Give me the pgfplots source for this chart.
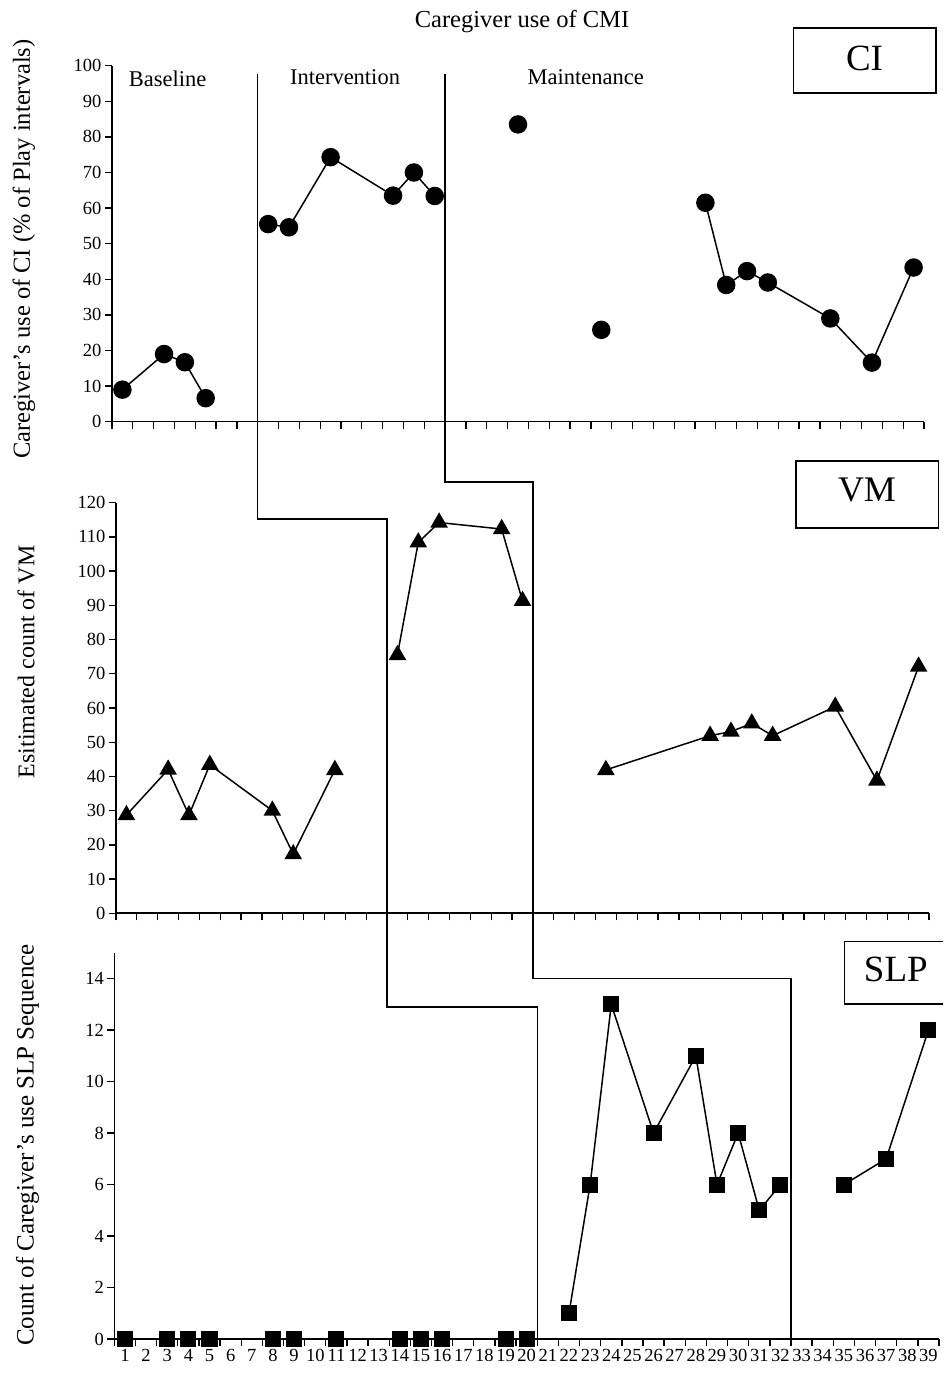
\documentclass[border=0pt]{standalone}
\usepackage{fontspec}
\setmainfont{Liberation Serif}
\usepackage{pgfplots}
\pgfplotsset{compat=1.18}
\pgfplotsset{
  panel/.style={
    scale only axis,
    axis x line=bottom, axis y line=left,
    axis line style={line width=1.6pt,-},
    xmin=0.5, xmax=39.5,
    clip=false,
    tick align=outside,
    major tick length=7pt,
    minor tick length=7pt,
    every tick/.style={black,line width=1.3pt},
    xtick={1,...,39},
    minor xtick={0.5,1.5,...,39.5},
    major x tick style={draw=none},
    /pgf/number format/assume math mode=true,
    tick label style={font=\fontsize{18.5}{18.5}\selectfont, black},
  },
  ser/.style={black, line width=1.5pt, mark options={solid, fill=black}},
}
\begin{document}
\begin{tikzpicture}[x=1pt,y=1pt]
\clip (0,0) rectangle (943,1374);
% ---------------- CI panel
\begin{axis}[panel, at={(112pt,952.3pt)}, anchor=south west,
  width=812pt, height=356pt, ymin=0, ymax=100, ytick={0,10,...,100},
  xticklabels={}]
\addplot[ser, mark=*, mark size=8.5pt] coordinates {(1,9) (3,19) (4,16.7) (5,6.6)};
\addplot[ser, mark=*, mark size=8.5pt] coordinates {(8,55.5) (9,54.6) (11,74.3) (14,63.5) (15,70) (16,63.4)};
\addplot[ser, only marks, mark=*, mark size=8.5pt] coordinates {(20,83.5) (24,25.8)};
\addplot[ser, mark=*, mark size=8.5pt] coordinates {(29,61.5) (30,38.4) (31,42.3) (32,39.1) (35,29) (37,16.6) (39,43.3)};
\coordinate (A0) at (axis cs:7.5,97.6);
\coordinate (B0) at (axis cs:16.5,97.6);
\end{axis}
% ---------------- VM panel
\begin{axis}[panel, at={(116pt,460.7pt)}, anchor=south west,
  width=813pt, height=410.6pt, ymin=0, ymax=120, ytick={0,10,...,120},
  xticklabels={}]
\addplot[ser, mark=triangle*, mark size=8.7pt] coordinates {(1,28.7) (3,42) (4,28.7) (5,43.4) (8,30) (9,17.3) (11,41.9)};
\addplot[ser, mark=triangle*, mark size=8.7pt] coordinates {(14,75.5) (15,108.4) (16,114.2) (19,112.3) (20,91.3)};
\addplot[ser, mark=triangle*, mark size=8.7pt] coordinates {(24,41.9) (29,51.9) (30,53.1) (31,55.5) (32,51.9) (35,60.4) (37,38.8) (39,72.1)};
\coordinate (A1) at (axis cs:13.5,115.3);
\coordinate (B1) at (axis cs:20.5,126.1);
\end{axis}
% ---------------- SLP panel
\begin{axis}[panel, at={(114.4pt,34.9pt)}, anchor=south west,
  width=824.6pt, height=386.2pt, ymin=0, ymax=15, ytick={0,2,...,14}]
\addplot[ser, only marks, mark=square*, mark size=7.3pt] coordinates {(1,0) (3,0) (4,0) (5,0) (8,0) (9,0) (11,0) (14,0) (15,0) (16,0) (19,0) (20,0)};
\addplot[ser, mark=square*, mark size=7.3pt] coordinates {(22,1) (23,6) (24,13) (26,8) (28,11) (29,6) (30,8) (31,5) (32,6)};
\addplot[ser, mark=square*, mark size=7.3pt] coordinates {(35,6) (37,7) (39,12)};
\coordinate (A2) at (axis cs:20.5,12.9);
\coordinate (A3) at (axis cs:20.5,0);
\coordinate (B2) at (axis cs:32.5,14);
\coordinate (B3) at (axis cs:32.5,0);
\end{axis}
% ---------------- phase change lines
\draw[line width=1.5pt] (A0) -- (A0 |- A1) -- (A1) -- (A1 |- A2) -- (A2) -- (A3);
\draw[line width=1.5pt] (B0) -- (B0 |- B1) -- (B1) -- (B1 |- B2) -- (B2) -- (B3);
% ---------------- texts
\node[font=\fontsize{24.5}{24.5}\selectfont] at (522,1352) {Caregiver use of CMI};
\node[rotate=90, font=\fontsize{24.5}{24.5}\selectfont] at (24,1125) {Caregiver's use of CI (\% of Play intervals)};
\node[rotate=90, font=\fontsize{24}{24}\selectfont] at (26,712) {Esitimated count of VM};
\node[rotate=90, font=\fontsize{25}{25}\selectfont] at (27.5,229) {Count of Caregiver's use SLP Sequence};
\node[font=\fontsize{22.5}{22.5}\selectfont] at (167.5,1294.7) {Baseline};
\node[font=\fontsize{22.5}{22.5}\selectfont] at (345,1297.3) {Intervention};
\node[font=\fontsize{22.5}{22.5}\selectfont] at (585.8,1296.7) {Maintenance};
% ---------------- boxes
\draw[line width=1.6pt] (793.3,1280.7) rectangle (935.7,1346);
\node[font=\fontsize{37}{37}\selectfont] at (864.5,1315.7) {CI};
\draw[line width=1.6pt] (795.7,845.7) rectangle (938.3,913);
\node[font=\fontsize{36}{36}\selectfont] at (867,884.5) {VM};
\draw[line width=1.6pt] (844.3,370) rectangle (960,432.3);
\node[font=\fontsize{37}{37}\selectfont] at (895.8,404.7) {SLP};
\end{tikzpicture}
\end{document}
